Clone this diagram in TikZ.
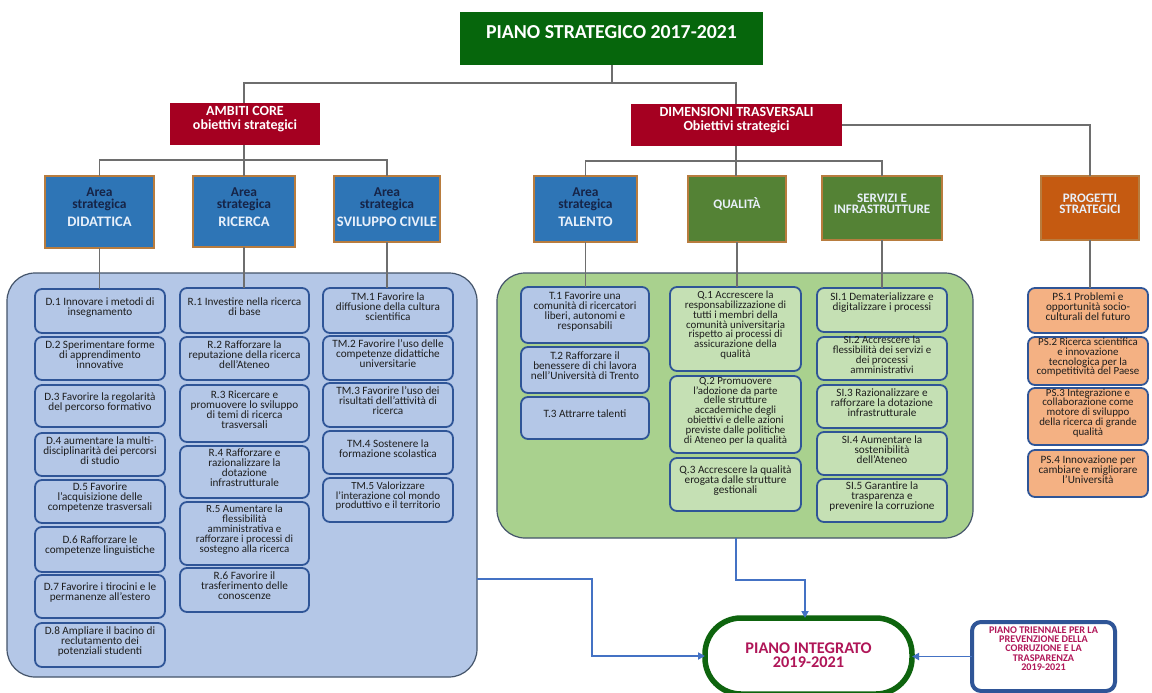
\documentclass[tikz,border=0pt]{standalone}
\usepackage{fontspec}
\setmainfont{Carlito}
\usetikzlibrary{fit,arrows.meta}

\definecolor{topgreen}{RGB}{6,102,12}
\definecolor{darkred}{RGB}{165,0,33}
\definecolor{areablue}{RGB}{46,117,182}
\definecolor{areaedge}{RGB}{184,124,62}
\definecolor{navytext}{RGB}{22,36,71}
\definecolor{namewhite}{RGB}{232,240,250}
\definecolor{qgreen}{RGB}{84,130,53}
\definecolor{porange}{RGB}{197,90,17}
\definecolor{panelblue}{RGB}{180,199,231}
\definecolor{paneledge}{RGB}{68,84,106}
\definecolor{boxedge}{RGB}{47,85,151}
\definecolor{greenpanelfill}{RGB}{169,209,142}
\definecolor{lightgreen}{RGB}{197,224,180}
\definecolor{lightorange}{RGB}{244,177,131}
\definecolor{flowblue}{RGB}{68,114,196}
\definecolor{crimson}{RGB}{176,22,88}
\definecolor{itemtext}{RGB}{30,30,30}
\definecolor{treegray}{RGB}{110,110,110}
\definecolor{planborder}{RGB}{14,100,14}

\tikzset{
  plainbox/.style={inner sep=0pt, outer sep=0pt, align=center},
  titlebox/.style={plainbox, fill=topgreen, text=white,
    font=\fontsize{19.8}{22}\selectfont\bfseries},
  redbox/.style={plainbox, fill=darkred, text=white,
    font=\fontsize{14}{14}\selectfont\bfseries},
  areabox/.style={plainbox, fill=areablue, draw=areaedge, line width=1.5pt},
  dimbox/.style={plainbox, fill=qgreen, draw=areaedge, line width=1.5pt,
    text=namewhite, font=\fontsize{13}{11.5}\selectfont\bfseries},
  projbox/.style={plainbox, fill=porange, draw=areaedge, line width=1.5pt,
    text=namewhite, font=\fontsize{13}{11.5}\selectfont\bfseries},
  areatop/.style={plainbox, text=navytext, font=\fontsize{13.5}{11.5}\selectfont\bfseries},
  areaname/.style={plainbox, text=namewhite, font=\fontsize{14.5}{15}\selectfont\bfseries},
  panel/.style={plainbox, line width=1.2pt, rounded corners=28pt},
  itembox/.style={plainbox, draw=boxedge, line width=1.8pt, rounded corners=7pt,
    text=itemtext, font=\fontsize{11.2}{10}\selectfont},
  dense/.style={font=\fontsize{10.9}{9.8}\selectfont},
  blueitem/.style={itembox, fill=panelblue},
  greenitem/.style={itembox, fill=lightgreen},
  orangeitem/.style={itembox, fill=lightorange},
  treeline/.style={draw=treegray, line width=1.2pt},
  flow/.style={draw=flowblue, line width=1.8pt, -{Triangle[length=7pt,width=7pt]}}
}

\begin{document}
\begin{tikzpicture}[x=1pt,y=-1pt]
\useasboundingbox (0,0) rectangle (1152,693);
\clip (0,0) rectangle (1152,693);
\fill[white] (0,0) rectangle (1152,693);

% --- top of the hierarchy ---
\node[titlebox, fit={(460,12)(763,65)}] (top) {PIANO STRATEGICO 2017-2021};
\node[redbox, fit={(170,103)(320,145)}] (ambiti) {AMBITI CORE\\obiettivi strategici};
\node[redbox, fit={(631,104)(842,146)}] (dimens) {DIMENSIONI TRASVERSALI\\Obiettivi strategici};

% --- strategic areas ---
\node[areabox, fit={(45,176)(154,248)}] (did) {};
\node[areabox, fit={(193,176)(295,247)}] (ric) {};
\node[areabox, fit={(334,176)(440,242)}] (svi) {};
\node[areabox, fit={(534,176)(637,242)}] (tal) {};
\foreach \a/\n in {did/DIDATTICA, ric/RICERCA, svi/SVILUPPO CIVILE, tal/TALENTO}{
  \node[areatop] at ([yshift=-23.5pt]\a.north) {Area\\strategica};
  \node[areaname] at ([yshift=-46pt]\a.north) {\n};
}
\node[dimbox, fit={(688,176)(786,242)}] (qua) {QUALIT\`A};
\node[dimbox, fit={(822,176)(942,240)}] (ser) {SERVIZI E\\INFRASTRUTTURE};
\node[projbox, fit={(1041,176)(1139,240)}] (pro) {PROGETTI\\STRATEGICI};

% --- panels ---
\node[panel, draw=paneledge, fill=panelblue, fit={(7,273)(477,677)}] (bluepanel) {};
\node[panel, draw=paneledge, fill=greenpanelfill, fit={(497,273)(973,538)}] (greenpanel) {};

% --- didattica ---
\node[blueitem, fit={(35,289)(165,333)}] (d1) {D.1 Innovare i metodi di\\insegnamento};
\node[blueitem, fit={(35,337)(165,380)}] (d2) {D.2 Sperimentare forme\\di apprendimento\\innovative};
\node[blueitem, fit={(35,385)(165,427)}] (d3) {D.3 Favorire la regolarità\\del percorso formativo};
\node[blueitem, fit={(35,433)(165,476)}] (d4) {D.4 aumentare la multi-\\disciplinarità dei percorsi\\di studio};
\node[blueitem, fit={(35,480)(165,523)}] (d5) {D.5 Favorire\\l’acquisizione delle\\competenze trasversali};
\node[blueitem, fit={(35,527)(165,572)}] (d6) {D.6 Rafforzare le\\competenze linguistiche};
\node[blueitem, fit={(35,575)(165,618)}] (d7) {D.7 Favorire i tirocini e le\\permanenze all’estero};
\node[blueitem, fit={(35,623)(165,667)}] (d8) {D.8 Ampliare il bacino di\\reclutamento dei\\potenziali studenti};

% --- ricerca ---
\node[blueitem, fit={(180,288)(309,333)}] (r1) {R.1 Investire nella ricerca\\di base};
\node[blueitem, fit={(180,337)(309,380)}] (r2) {R.2 Rafforzare la\\reputazione della ricerca\\dell’Ateneo};
\node[blueitem, fit={(180,385)(309,442)}] (r3) {R.3 Ricercare e\\promuovere lo sviluppo\\di temi di ricerca\\trasversali};
\node[blueitem, fit={(180,446)(309,498)}] (r4) {R.4 Rafforzare e\\razionalizzare la\\dotazione\\infrastrutturale};
\node[blueitem, dense, fit={(180,502)(309,565)}] (r5) {R.5 Aumentare la\\flessibilità\\amministrativa e\\rafforzare i processi di\\sostegno alla ricerca};
\node[blueitem, fit={(180,568)(309,612)}] (r6) {R.6 Favorire il\\trasferimento delle\\conoscenze};

% --- sviluppo civile ---
\node[blueitem, fit={(323,288)(453,333)}] (tm1) {TM.1 Favorire la\\diffusione della cultura\\scientifica};
\node[blueitem, fit={(323,336)(453,380)}] (tm2) {TM.2 Favorire l’uso delle\\competenze didattiche\\universitarie};
\node[blueitem, fit={(323,383)(453,427)}] (tm3) {TM.3 Favorire l’uso dei\\risultati dell’attività di\\ricerca};
\node[blueitem, fit={(323,431)(453,474)}] (tm4) {TM.4 Sostenere la\\formazione scolastica};
\node[blueitem, dense, fit={(323,478)(453,522)}] (tm5) {TM.5 Valorizzare\\l’interazione col mondo\\produttivo e il territorio};

% --- talento ---
\node[blueitem, fit={(521,287)(649,343)}] (t1) {T.1 Favorire una\\comunità di ricercatori\\liberi, autonomi e\\responsabili};
\node[blueitem, fit={(521,347)(649,393)}] (t2) {T.2 Rafforzare il\\benessere di chi lavora\\nell’Università di Trento};
\node[blueitem, fit={(521,397)(649,439)}] (t3) {T.3 Attrarre talenti};

% --- qualità ---
\node[greenitem, dense, fit={(670,287)(801,371)}] (q1) {Q.1 Accrescere la\\responsabilizzazione di\\tutti i membri della\\comunità universitaria\\rispetto ai processi di\\assicurazione della\\qualità};
\node[greenitem, dense, fit={(670,376)(801,453)}] (q2) {Q.2 Promuovere\\l’adozione da parte\\delle strutture\\accademiche degli\\obiettivi e delle azioni\\previste dalle politiche\\di Ateneo per la qualità};
\node[greenitem, fit={(670,458)(801,511)}] (q3) {Q.3 Accrescere la qualità\\erogata dalle strutture\\gestionali};

% --- servizi e infrastrutture ---
\node[greenitem, fit={(817,288)(947,332)}] (si1) {SI.1 Dematerializzare e\\digitalizzare i processi\\\mbox{}};
\node[greenitem, dense, fit={(817,337)(947,380)}] (si2) {SI.2 Accrescere la\\flessibilità dei servizi e\\dei processi\\amministrativi};
\node[greenitem, fit={(817,385)(947,428)}] (si3) {SI.3 Razionalizzare e\\rafforzare la dotazione\\infrastrutturale};
\node[greenitem, fit={(817,432)(947,475)}] (si4) {SI.4 Aumentare la\\sostenibilità\\dell’Ateneo};
\node[greenitem, fit={(817,479)(947,522)}] (si5) {SI.5 Garantire la\\trasparenza e\\prevenire la corruzione};

% --- progetti strategici ---
\node[orangeitem, fit={(1028,288)(1148,333)}] (ps1) {PS.1 Problemi e\\opportunità socio-\\culturali del futuro};
\node[orangeitem, dense, fit={(1028,337)(1148,385)}] (ps2) {PS.2 Ricerca scientifica\\e innovazione\\tecnologica per la\\competitività del Paese};
\node[orangeitem, dense, fit={(1028,388)(1148,445)}] (ps3) {PS.3 Integrazione e\\collaborazione come\\motore di sviluppo\\della ricerca di grande\\qualità};
\node[orangeitem, fit={(1028,450)(1148,497)}] (ps4) {PS.4 Innovazione per\\cambiare e migliorare\\l’Università};

% --- integrated plan and anti-corruption plan ---
\node[plainbox, draw=planborder, line width=5.5pt, fill=white, rounded corners=36pt,
      fit={(705,618)(912,694)}] (integrato) {};
\node[plainbox, text=crimson, font=\fontsize{16.3}{14.5}\selectfont\bfseries]
      at ([yshift=1pt]integrato.center) {PIANO INTEGRATO\\2019-2021};
\node[plainbox, draw=boxedge, line width=4pt, fill=white, rounded corners=9pt,
      fit={(972,622)(1115,691)}] (triennale) {};
\node[plainbox, text=crimson, font=\fontsize{10.2}{9.4}\selectfont\bfseries]
      at ([yshift=8pt]triennale.center) {PIANO TRIENNALE PER LA\\PREVENZIONE DELLA\\CORRUZIONE E LA\\TRASPARENZA\\2019-2021};

% --- hierarchy connectors ---
\coordinate (jtop) at (612,83);
\coordinate (jcore) at (244,160);
\coordinate (jdim) at (736,161);
\draw[treeline] (top.south -| jtop) -- (jtop);
\draw[treeline] (ambiti.north -| jcore) |- (jtop) -| (dimens.north -| jdim);
\draw[treeline] (dimens.east) -| (pro.north);
\draw[treeline] (ambiti.south -| jcore) -- (jcore);
\draw[treeline] (did.north) |- (jcore) -| (svi.north);
\draw[treeline] (jcore) -- (ric.north -| jcore);
\draw[treeline] (dimens.south -| jdim) -- (jdim);
\draw[treeline] (tal.north) |- (jdim) -| (ser.north);
\draw[treeline] (jdim) -- (qua.north -| jdim);

\draw[treeline] (did.south) -- (did.south |- d1.north);
\draw[treeline] (ric.south) -- (ric.south |- r1.north);
\draw[treeline] (svi.south) -- (svi.south |- tm1.north);
\draw[treeline] (tal.south) -- (tal.south |- t1.north);
\draw[treeline] (qua.south) -- (qua.south |- q1.north);
\draw[treeline] (ser.south) -- (ser.south |- si1.north);
\draw[treeline] (pro.south) -- (pro.south |- ps1.north);

% --- flows into the integrated plan ---
\coordinate (b1) at (592,579);
\coordinate (g1) at (736,580);
\coordinate (g2) at (805,580);
\draw[flow] (bluepanel.east |- b1) -- (b1) |- (integrato.west);
\draw[flow] (greenpanel.south -| g1) -- (g1) -- (g2) -- (g2 |- integrato.north);
\draw[flow] (triennale.west) -- (triennale.west -| integrato.east);
\end{tikzpicture}
\end{document}
